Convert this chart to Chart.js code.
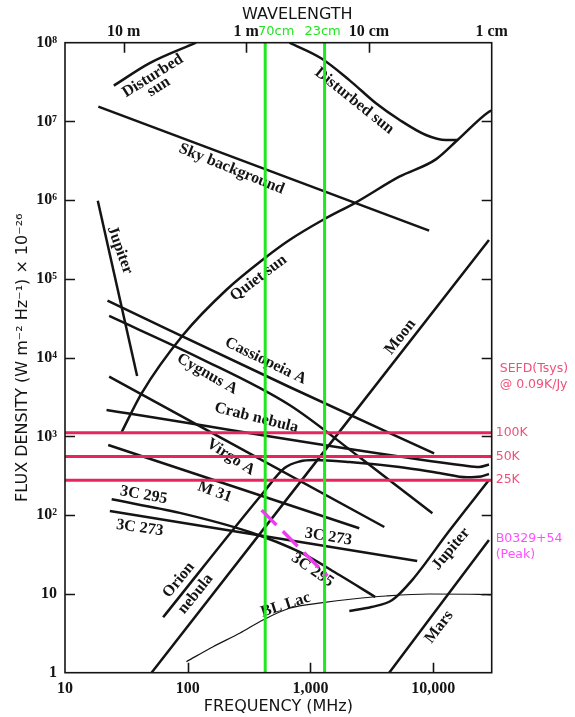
<!DOCTYPE html>
<html><head><meta charset="utf-8">
<script src="https://cdn.jsdelivr.net/npm/chart.js@4"></script>
<style>html,body{margin:0;padding:0;background:#fff;}#wrap{width:575px;height:717px;position:relative;}</style>
</head><body><div id="wrap"><canvas id="c"></canvas></div>
<script>
// ---- axes ----
const xTickValues = [10, 100, 1000, 10000];
const xTickLabels = ['10', '100', '1,000', '10,000'];
const yTickValues = [1, 10, 100, 1e3, 1e4, 1e5, 1e6, 1e7, 1e8];
const yTickLabels = ['1', '10', '10²', '10³', '10⁴', '10⁵', '10⁶', '10⁷', '10⁸'];
const wavelengthMHz = [30, 300, 3000, 30000];
const wavelengthLabels = ['10 m', '1 m', '10 cm', '1 cm'];

// ---- curves: frequency (MHz) and flux density (Jy) ----
const disturbedSunLowF = [25, 49, 117];
const disturbedSunLowS = [2.85e7, 5.5e7, 1.0e8];
const disturbedSunHighF = [675, 1222, 2075, 3420, 5300, 8730, 12700, 15800];
const disturbedSunHighS = [1.0e8, 6.34e7, 3.35e7, 1.70e7, 1.05e7, 6.73e6, 5.81e6, 5.81e6];
const quietSunF = [28.9, 42.1, 91.6, 206, 415, 675, 1259, 2355, 5300, 10520, 15800, 28500, 30000];
const quietSunS = [1130, 3530, 1.94e4, 7.24e4, 1.79e5, 3.12e5, 5.6e5, 9.4e5, 1.99e6, 3.3e6, 5.81e6, 1.33e7, 1.38e7];
const skyF = [18.7, 9270];
const skyS = [1.54e7, 4.1e5];
const jupiterLowF = [18.5, 38.7];
const jupiterLowS = [9.86e5, 5860];
const casF = [22.2, 675, 10180];
const casS = [5.29e4, 4245, 611];
const cygF = [22.9, 125, 675, 2500, 9860];
const cygS = [3.39e4, 9910, 2506, 548, 106];
const crabF = [21.8, 17870, 23650, 28500];
const crabS = [2168, 428, 409, 440];
const virgoF = [22.9, 4000];
const virgoS = [5740, 70.8];
const m31F = [22.5, 2500];
const m31S = [779, 68.2];
const c295F = [24.0, 86.1, 319, 815, 1722, 3375];
const c295S = [159, 107, 61.2, 34.1, 17.4, 9.15];
const c273F = [23.2, 7413];
const c273S = [113, 26.2];
const orionF = [63.0, 409, 615, 815, 1079, 2075, 5300, 11190, 18880, 24550, 28500];
const orionS = [5.05, 190, 397, 481, 502, 474, 409, 344, 303, 310, 334];
const moonF = [50.7, 28500];
const moonS = [1, 3.12e5];
const jupiterHighF = [2075, 3135, 4645, 6745, 13490, 28500];
const jupiterHighS = [6.07, 6.83, 8.38, 15.0, 63.0, 280];
const marsF = [4385, 28500];
const marsS = [1, 48.4];
const blLacF = [97.5, 161, 265, 410, 675, 1259, 2208, 4120, 9270, 23650, 29500];
const blLacS = [1.38, 2.14, 3.17, 4.67, 6.58, 7.74, 8.63, 9.42, 9.99, 9.90, 9.70];
const pulsarF = [400, 1374];
const pulsarS = [116, 16.9];
const sefdJy = [1111, 556, 278];
const sefdLabels = ['100K', '50K', '25K'];
const bandMHz = [428, 1304];
const bandLabels = ['70cm', '23cm'];

// ---- curve labels (text, MHz, Jy, angle deg) ----
const curveLabels = [
  ['Disturbed', 51.9, 3.78e7, -32], ['sun', 58.1, 2.74e7, -32],
  ['Disturbed sun', 2280, 1.82e7, 38.7],
  ['Sky background', 228, 2.49e6, 22],
  ['Jupiter', 28.0, 2.33e5, 70],
  ['Quiet sun', 378, 1.03e5, -37],
  ['Cassiopeia A', 431, 9080, 26],
  ['Cygnus A', 144, 6210, 29.6],
  ['Crab nebula', 362, 1720, 14],
  ['Virgo A', 224, 548, 33],
  ['M 31', 166, 197, 20],
  ['3C 295', 43.8, 180, 10],
  ['3C 273', 40.7, 68.8, 8],
  ['3C 273', 1400, 52.9, 9],
  ['3C 295', 1038, 20.1, 35],
  ['Orion', 84.5, 15.0, -51], ['nebula', 116, 9.98, -51],
  ['Moon', 5400, 18300, -52],
  ['Jupiter', 14000, 37.2, -50],
  ['Mars', 11200, 3.8, -53],
  ['BL Lac', 627, 7.24, -18]
];

const pts = (fs, ss) => fs.map((f, i) => ({x: f, y: ss[i]}));
const black = (fs, ss, w = 2.5) => ({data: pts(fs, ss), borderColor: '#141414', borderWidth: w,
  pointRadius: 0, cubicInterpolationMode: 'monotone', fill: false, order: 3});

const datasets = [
  {data: pts(pulsarF, pulsarS), borderColor: '#f03cf0', borderWidth: 3.5, borderDash: [21, 9], pointRadius: 0, order: 0},
  ...bandMHz.map(f => ({data: [{x: f, y: 1}, {x: f, y: 1e8}], borderColor: '#22e622', borderWidth: 3, pointRadius: 0, order: 1})),
  ...sefdJy.map(s => ({data: [{x: 10, y: s}, {x: 30000, y: s}], borderColor: '#e8245e', borderWidth: 3, pointRadius: 0, order: 2})),
  black(disturbedSunLowF, disturbedSunLowS),
  black(disturbedSunHighF, disturbedSunHighS),
  black(quietSunF, quietSunS),
  black(skyF, skyS),
  black(jupiterLowF, jupiterLowS),
  black(casF, casS),
  black(cygF, cygS),
  black(crabF, crabS),
  black(virgoF, virgoS),
  black(m31F, m31S),
  black(c295F, c295S),
  black(c273F, c273S),
  black(orionF, orionS),
  black(moonF, moonS),
  black(jupiterHighF, jupiterHighS),
  black(marsF, marsS),
  black(blLacF, blLacS, 1.2)
];

const serifB = s => 'bold ' + s + 'px "Liberation Serif", "DejaVu Serif", serif';
const sans = s => s + 'px "DejaVu Sans", sans-serif';

const decor = {
  id: 'decor',
  beforeDatasetsDraw(chart) {
    const {ctx, scales: {x, y}} = chart;
    ctx.save();
    ctx.fillStyle = '#141414';
    ctx.font = serifB(16);
    ctx.textAlign = 'center'; ctx.textBaseline = 'middle';
    curveLabels.forEach(([t, f, s, a]) => {
      ctx.save();
      ctx.translate(x.getPixelForValue(f), y.getPixelForValue(s));
      ctx.rotate(a * Math.PI / 180);
      ctx.fillText(t, 0, 0);
      ctx.restore();
    });
    ctx.restore();
  },
  afterDatasetsDraw(chart) {
    const {ctx, chartArea: a, scales: {x, y}} = chart;
    ctx.save();
    ctx.strokeStyle = '#141414'; ctx.lineWidth = 1.6;
    ctx.strokeRect(a.left, a.top, a.right - a.left, a.bottom - a.top);
    ctx.beginPath();
    yTickValues.forEach(v => {
      if (v > 1 && v < 1e8) {
        const py = Math.round(y.getPixelForValue(v)) + 0.5;
        ctx.moveTo(a.left, py); ctx.lineTo(a.left + 10, py);
        ctx.moveTo(a.right, py); ctx.lineTo(a.right - 10, py);
      }
    });
    xTickValues.forEach(v => {
      if (v > 10) { const px = Math.round(x.getPixelForValue(v)) + 0.5; ctx.moveTo(px, a.bottom); ctx.lineTo(px, a.bottom - 10); }
    });
    wavelengthMHz.forEach(v => {
      if (v < 30000) { const px = Math.round(x.getPixelForValue(v)) + 0.5; ctx.moveTo(px, a.top); ctx.lineTo(px, a.top + 10); }
    });
    ctx.stroke();

    // titles
    ctx.fillStyle = '#141414'; ctx.textAlign = 'center'; ctx.textBaseline = 'middle';
    ctx.font = sans(16);
    ctx.fillText('WAVELENGTH', (a.left + a.right) / 2 + 19, 15);
    ctx.fillText('FREQUENCY (MHz)', (a.left + a.right) / 2, 707);
    ctx.save();
    ctx.translate(23, (a.top + a.bottom) / 2);
    ctx.rotate(-Math.PI / 2);
    ctx.fillText('FLUX DENSITY (W m⁻² Hz⁻¹) × 10⁻²⁶', 0, 0);
    ctx.restore();

    // band labels
    ctx.fillStyle = '#22e622'; ctx.font = sans(13);
    ctx.textAlign = 'center';
    ctx.fillText(bandLabels[0], x.getPixelForValue(bandMHz[0]) + 11, 32);
    ctx.fillText(bandLabels[1], x.getPixelForValue(bandMHz[1]) - 2, 32);

    // SEFD labels
    ctx.textAlign = 'left';
    ctx.fillStyle = '#f0507a'; ctx.font = sans(12.5);
    ctx.fillText('SEFD(Tsys)', a.right + 8, y.getPixelForValue(7190));
    ctx.fillText('@ 0.09K/Jy', a.right + 8, y.getPixelForValue(4500));
    sefdJy.forEach((s, i) => ctx.fillText(sefdLabels[i], a.right + 4, y.getPixelForValue(s)));
    ctx.fillStyle = '#ff50ff';
    ctx.fillText('B0329+54', a.right + 4, y.getPixelForValue(49.9));
    ctx.fillText('(Peak)', a.right + 4, y.getPixelForValue(31.2));
    ctx.restore();
  }
};

const tickFont = {family: '"Liberation Serif", "DejaVu Serif", serif', weight: 'bold', size: 16};

new Chart(document.getElementById('c'), {
  type: 'line',
  data: {datasets},
  options: {
    responsive: true, maintainAspectRatio: false, animation: false,
    layout: {padding: {right: 83.3}},
    plugins: {legend: {display: false}, tooltip: {enabled: false}},
    elements: {point: {radius: 0}, line: {tension: 0}},
    scales: {
      x: {type: 'logarithmic', position: 'bottom', min: 10, max: 30000,
        grid: {display: false, drawTicks: false}, border: {display: false},
        afterBuildTicks: s => { s.ticks = xTickValues.map(v => ({value: v})); },
        afterFit: s => { s.height = 44.3; },
        ticks: {autoSkip: false, maxRotation: 0, padding: 7, color: '#141414', font: tickFont,
          callback: (v, i) => xTickLabels[i]}},
      x2: {type: 'logarithmic', position: 'top', min: 10, max: 30000,
        grid: {display: false, drawTicks: false}, border: {display: false},
        afterBuildTicks: s => { s.ticks = wavelengthMHz.map(v => ({value: v})); },
        afterFit: s => { s.height = 42.7; },
        ticks: {autoSkip: false, maxRotation: 0, padding: 1, color: '#141414', font: tickFont,
          callback: (v, i) => wavelengthLabels[i]}},
      y: {type: 'logarithmic', position: 'left', min: 1, max: 1e8,
        grid: {display: false, drawTicks: false}, border: {display: false},
        afterBuildTicks: s => { s.ticks = yTickValues.map(v => ({value: v})); },
        afterFit: s => { s.width = 65; },
        ticks: {autoSkip: false, padding: 8, color: '#141414', font: tickFont,
          callback: (v, i) => yTickLabels[i]}}
    }
  },
  plugins: [decor]
});
</script></body></html>
